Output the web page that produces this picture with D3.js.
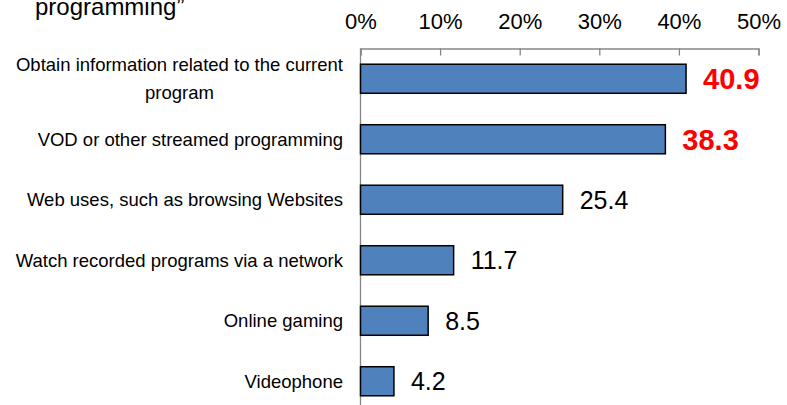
<!DOCTYPE html>
<html>
<head>
<meta charset="utf-8">
<script src="https://cdn.jsdelivr.net/npm/d3@7"></script>
<style>
  html, body { margin: 0; padding: 0; background: #fff; }
  svg { display: block; font-family: "Liberation Sans", Arial, sans-serif; }
</style>
</head>
<body>
<svg id="chart" width="787" height="405"></svg>
<script>
// Survey: uses of TV network features (percent of respondents)
const categories = [
  ["Obtain information related to the current", "program"],
  ["VOD or other streamed programming"],
  ["Web uses, such as browsing Websites"],
  ["Watch recorded programs via a network"],
  ["Online gaming"],
  ["Videophone"]
];
const values = [40.9, 38.3, 25.4, 11.7, 8.5, 4.2];
const highlighted = [true, true, false, false, false, false];
const tickValues = [0, 10, 20, 30, 40, 50];
const titleTail = "programming\u201D";

const svg = d3.select("#chart");
const plotLeft = 360.5, plotRight = 758.5, plotTop = 48.5;
const step = 60.5;

const x = d3.scaleLinear().domain([0, 50]).range([plotLeft, plotRight]);
const y = d3.scaleBand()
  .domain(d3.range(categories.length))
  .range([plotTop, plotTop + step * categories.length])
  .paddingInner(0.52)
  .paddingOuter(0.26);

// Title (last line visible)
svg.append("text")
  .attr("x", 35).attr("y", 15)
  .attr("font-size", 24)
  .attr("fill", "#000")
  .text(titleTail);

// Top percentage axis
const xAxis = d3.axisTop(x)
  .tickValues(tickValues)
  .tickFormat(d => d + "%")
  .tickSize(-7)
  .tickSizeOuter(-7)
  .tickPadding(0);

const gx = svg.append("g")
  .attr("transform", `translate(0,${plotTop})`)
  .call(xAxis);
gx.select(".domain").attr("stroke", "#868686").attr("stroke-width", 1.3);
gx.selectAll(".tick line").attr("stroke", "#868686").attr("stroke-width", 1.3);
gx.selectAll(".tick text")
  .attr("y", -20)
  .attr("font-size", 22)
  .attr("font-family", "Liberation Sans, Arial, sans-serif")
  .attr("fill", "#000");

// Category axis line
svg.append("line")
  .attr("x1", plotLeft).attr("x2", plotLeft)
  .attr("y1", plotTop).attr("y2", 420)
  .attr("stroke", "#868686").attr("stroke-width", 1.3);

// Bars
svg.append("g").selectAll("rect")
  .data(values)
  .join("rect")
  .attr("x", x(0))
  .attr("y", (d, i) => y(i))
  .attr("width", d => x(d) - x(0))
  .attr("height", y.bandwidth())
  .attr("fill", "#4F81BD")
  .attr("stroke", "#000")
  .attr("stroke-width", 1.5);

// Value labels
svg.append("g").selectAll("text")
  .data(values)
  .join("text")
  .attr("x", d => x(d) + 17)
  .attr("y", (d, i) => y(i) + y.bandwidth() / 2)
  .attr("dy", "0.36em")
  .attr("font-size", (d, i) => highlighted[i] ? 29 : 25)
  .attr("font-weight", (d, i) => highlighted[i] ? "bold" : "normal")
  .attr("fill", (d, i) => highlighted[i] ? "#FF0000" : "#000")
  .text(d => d.toFixed(1));

// Category labels (multi-line labels are centred on their widest line)
const labelRight = 343;
const lineH = 28;
const catG = svg.append("g");
categories.forEach((lines, i) => {
  const cy = y(i) + y.bandwidth() / 2;
  const g = catG.append("g");
  const texts = lines.map((t, j) => g.append("text")
    .attr("font-size", 18.5)
    .attr("fill", "#000")
    .attr("y", cy + (j - (lines.length - 1) / 2) * lineH)
    .attr("dy", "0.35em")
    .text(t));
  const widths = texts.map(t => t.node().getComputedTextLength());
  const maxW = d3.max(widths);
  const center = labelRight - maxW / 2;
  texts.forEach(t => t.attr("x", center).attr("text-anchor", "middle"));
});
</script>
</body>
</html>
